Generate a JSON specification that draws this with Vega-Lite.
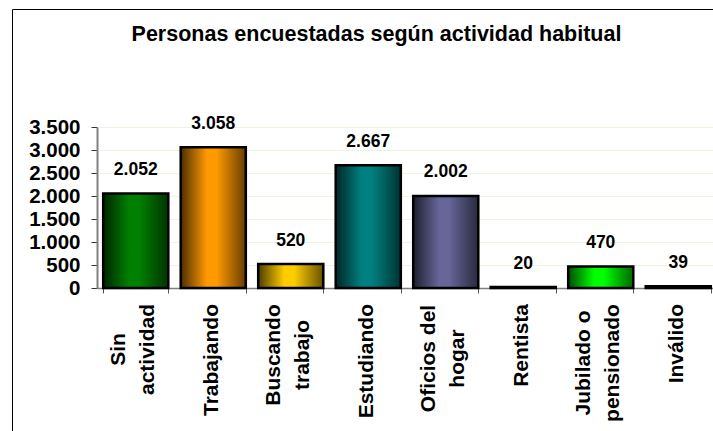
{
  "$schema": "https://vega.github.io/schema/vega-lite/v6.json",
  "width": 701,
  "height": 422,
  "autosize": {"type": "none"},
  "padding": {"left": 12, "top": 9, "right": 0, "bottom": 0},
  "background": "white",
  "title": {
    "text": "Personas encuestadas según actividad habitual",
    "font": "Liberation Sans",
    "fontSize": 21.5,
    "fontWeight": "bold",
    "color": "#000000",
    "anchor": "middle",
    "frame": "group",
    "baseline": "alphabetic",
    "offset": -53,
    "dx": 14
  },
  "data": {
    "values": [
      {"actividad": "Sin actividad", "personas": 2052},
      {"actividad": "Trabajando", "personas": 3058},
      {"actividad": "Buscando trabajo", "personas": 520},
      {"actividad": "Estudiando", "personas": 2667},
      {"actividad": "Oficios del hogar", "personas": 2002},
      {"actividad": "Rentista", "personas": 20},
      {"actividad": "Jubilado o pensionado", "personas": 470},
      {"actividad": "Inválido", "personas": 39}
    ]
  },
  "encoding": {
    "x": {
      "field": "actividad",
      "type": "nominal",
      "sort": null,
      "scale": {"range": [85, 705], "paddingInner": 0.16, "paddingOuter": 0.08},
      "axis": {
        "title": null,
        "orient": "bottom",
        "offset": -143,
        "labelAngle": -90,
        "labelAlign": {
          "condition": {"test": "indexof(['Sin actividad', 'Buscando trabajo', 'Oficios del hogar', 'Jubilado o pensionado'], datum.value) >= 0", "value": "center"},
          "value": "right"
        },
        "labelBaseline": "middle",
        "labelFont": "Liberation Sans",
        "labelFontSize": 21,
        "labelFontWeight": "bold",
        "labelColor": "#000000",
        "labelLineHeight": 29,
        "labelPadding": {
          "condition": [
            {"test": "datum.value == 'Sin actividad'", "value": 56},
            {"test": "datum.value == 'Buscando trabajo'", "value": 61.5},
            {"test": "datum.value == 'Oficios del hogar'", "value": 65},
            {"test": "datum.value == 'Jubilado o pensionado'", "value": 69.5}
          ],
          "value": 10.5
        },
        "labelLimit": 300,
        "labelOffset": {
          "condition": {"test": "indexof(['Sin actividad', 'Buscando trabajo', 'Oficios del hogar', 'Jubilado o pensionado'], datum.value) >= 0", "value": -17},
          "value": -2
        },
        "labelExpr": "!isValid(datum.value) ? '' : datum.value == 'Oficios del hogar' ? ['Oficios del', 'hogar'] : datum.value == 'Jubilado o pensionado' ? ['Jubilado o', 'pensionado'] : split(datum.value, ' ')",
        "tickBand": "extent",
        "tickSize": 5,
        "tickColor": "#555555",
        "domainColor": "#808080",
        "domainWidth": 1.5,
        "grid": false
      }
    },
    "y": {
      "field": "personas",
      "type": "quantitative",
      "scale": {"domain": [0, 3500], "range": [279, 118], "nice": false},
      "axis": {
        "title": null,
        "offset": -85,
        "values": [0, 500, 1000, 1500, 2000, 2500, 3000, 3500],
        "format": ",d",
        "labelFont": "Liberation Sans",
        "labelFontSize": 20.5,
        "labelFontWeight": "bold",
        "labelColor": "#000000",
        "labelPadding": 11,
        "tickSize": 6,
        "tickColor": "#333333",
        "domainColor": "#808080",
        "domainWidth": 2,
        "grid": true,
        "gridColor": "#eaf6e2",
        "gridWidth": 1
      }
    }
  },
  "layer": [
    {
      "mark": {"type": "bar"},
      "encoding": {
        "color": {
          "field": "actividad",
          "type": "nominal",
          "sort": null,
          "scale": {
            "domain": ["Sin actividad", "Trabajando", "Buscando trabajo", "Estudiando", "Oficios del hogar", "Rentista", "Jubilado o pensionado", "Inválido"],
            "range": ["#008000", "#FF9900", "#FFCC00", "#008080", "#666699", "#993366", "#00FF00", "#3366FF"]
          },
          "legend": null
        }
      }
    },
    {
      "mark": {
        "type": "bar",
        "fill": {
          "gradient": "linear",
          "x1": 0, "y1": 0, "x2": 1, "y2": 0,
          "stops": [
            {"offset": 0, "color": "rgba(0,0,0,0.7)"},
            {"offset": 0.4, "color": "rgba(0,0,0,0)"},
            {"offset": 0.55, "color": "rgba(0,0,0,0)"},
            {"offset": 1, "color": "rgba(0,0,0,0.6)"}
          ]
        },
        "stroke": "#000000",
        "strokeWidth": 2.5
      }
    },
    {
      "mark": {
        "type": "text",
        "font": "Liberation Sans",
        "fontSize": 17.5,
        "fontWeight": "bold",
        "color": "#000000",
        "baseline": "alphabetic",
        "align": "center",
        "dy": -18.5
      },
      "encoding": {
        "text": {"field": "personas", "type": "quantitative", "format": ",d"}
      }
    }
  ],
  "config": {
    "locale": {
      "number": {"decimal": ",", "thousands": ".", "grouping": [3], "currency": ["", " €"]}
    },
    "view": {"stroke": "#000000", "strokeWidth": 1, "fill": "white"}
  }
}
